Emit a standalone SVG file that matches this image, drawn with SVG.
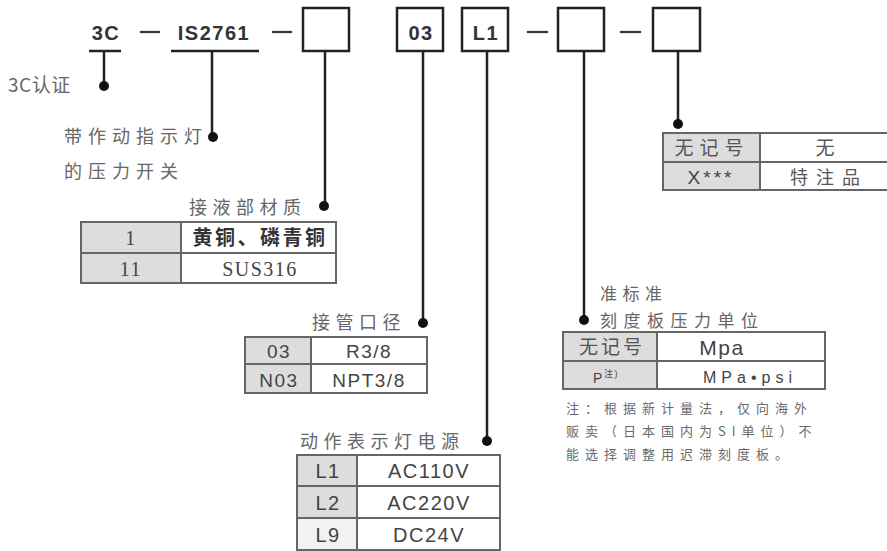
<svg xmlns="http://www.w3.org/2000/svg" width="887" height="551" viewBox="0 0 887 551">
<style>
.code{font-family:"Liberation Sans","Noto Sans CJK SC",sans-serif;font-size:20px;font-weight:bold;fill:#333;text-anchor:middle;letter-spacing:1.5px}
.box{fill:#fff;stroke:#222;stroke-width:2.5}
.ln{stroke:#222;stroke-width:2.5;fill:none}
.dash{stroke:#333;stroke-width:2.2}
.dot{fill:#111}
.lbl{font-family:"Noto Sans CJK SC","Liberation Sans",sans-serif;font-size:18px;fill:#666;letter-spacing:5.5px}
.tb{stroke:#666;stroke-width:2;fill:#fff}
.cell{fill:#ddd;stroke:#666;stroke-width:2}
.tt{font-family:"Liberation Sans","Noto Sans CJK SC",sans-serif;font-size:19px;fill:#444;text-anchor:middle;letter-spacing:1.5px}
.ts{font-family:"Liberation Serif","Noto Sans CJK SC",serif;font-size:20px;fill:#444;text-anchor:middle;letter-spacing:1.5px}
.tc{font-family:"Noto Sans CJK SC","Liberation Sans",sans-serif;font-size:18px;fill:#555;text-anchor:middle}
.note{font-family:"Noto Sans CJK SC","Liberation Sans",sans-serif;font-size:13px;fill:#6a6a6a;letter-spacing:6px}
</style>
<rect width="887" height="551" fill="#fff"/>
<g id="connectors">
<line class="ln" x1="89" y1="51" x2="121" y2="51"/>
<line class="ln" x1="104" y1="51" x2="104" y2="85"/>
<line class="ln" x1="171" y1="51" x2="259" y2="51"/>
<line class="ln" x1="212" y1="51" x2="212" y2="137"/>
<line class="ln" x1="325" y1="51" x2="325" y2="206"/>
<line class="ln" x1="423" y1="51" x2="423" y2="323"/>
<line class="ln" x1="487" y1="51" x2="487" y2="441"/>
<line class="ln" x1="584" y1="51" x2="584" y2="320"/>
<line class="ln" x1="678" y1="51" x2="678" y2="123"/>
<line class="dash" x1="140" y1="32" x2="160" y2="32"/>
<line class="dash" x1="272" y1="32" x2="292" y2="32"/>
<line class="dash" x1="527" y1="32" x2="548" y2="32"/>
<line class="dash" x1="620" y1="32" x2="641" y2="32"/>
<circle class="dot" cx="104" cy="86" r="5"/>
<circle class="dot" cx="213" cy="137" r="5"/>
<circle class="dot" cx="324" cy="206" r="5"/>
<circle class="dot" cx="423" cy="323" r="5"/>
<circle class="dot" cx="487" cy="441" r="5"/>
<circle class="dot" cx="584" cy="320" r="5"/>
<circle class="dot" cx="678" cy="124" r="5"/>
</g>
<g id="code-3c">
<text class="code" x="106" y="40">3C</text>
<text class="lbl" x="8" y="92" style="letter-spacing:0.5px;font-size:19px">3C认证</text>
</g>
<g id="code-is2761">
<text class="code" x="214" y="40">IS2761</text>
<text class="lbl" x="64" y="143" style="letter-spacing:6px">带作动指示灯</text>
<text class="lbl" x="64" y="178" style="letter-spacing:6px">的压力开关</text>
</g>
<g id="code-material">
<rect class="box" x="303" y="8" width="46" height="43"/>
<text class="lbl" x="189" y="214">接液部材质</text>
<rect class="tb" x="81" y="222" width="255" height="61"/>
<rect class="cell" x="81" y="222" width="100" height="61"/>
<line class="tb" x1="81" y1="253" x2="336" y2="253"/>
<text class="ts" x="131" y="245">1</text>
<text class="tc" x="260" y="245" style="font-weight:bold;fill:#333;font-size:20px;letter-spacing:2.5px">黄铜、磷青铜</text>
<text class="ts" x="131" y="276">11</text>
<text class="ts" x="260" y="276">SUS316</text>
</g>
<g id="code-port">
<rect class="box" x="397" y="8" width="46" height="43"/>
<text class="code" x="421" y="40">03</text>
<text class="lbl" x="312" y="329">接管口径</text>
<rect class="tb" x="245" y="337" width="182" height="56"/>
<rect class="cell" x="245" y="337" width="66" height="56"/>
<line class="tb" x1="245" y1="364" x2="427" y2="364"/>
<text class="tt" x="279" y="358">03</text>
<text class="tt" x="369" y="358">R3/8</text>
<text class="tt" x="279" y="387">N03</text>
<text class="tt" x="369" y="387">NPT3/8</text>
</g>
<g id="code-lamp">
<rect class="box" x="462" y="8" width="46" height="43"/>
<text class="code" x="486" y="40">L1</text>
<text class="lbl" x="300" y="448">动作表示灯电源</text>
<rect class="tb" x="297" y="455" width="203" height="95"/>
<rect class="cell" x="297" y="455" width="60" height="95"/>
<rect x="298" y="519" width="58" height="30" fill="#f2f2f2"/>
<line class="tb" x1="297" y1="486" x2="500" y2="486"/>
<line class="tb" x1="297" y1="518" x2="500" y2="518"/>
<text class="tt" x="328" y="478" style="font-size:20px">L1</text>
<text class="tt" x="429" y="478" style="font-size:20px">AC110V</text>
<text class="tt" x="328" y="510" style="font-size:20px">L2</text>
<text class="tt" x="429" y="510" style="font-size:20px">AC220V</text>
<text class="tt" x="328" y="542" style="font-size:20px">L9</text>
<text class="tt" x="429" y="542" style="font-size:20px">DC24V</text>
</g>
<g id="code-unit">
<rect class="box" x="558" y="8" width="46" height="43"/>
<text class="lbl" x="600" y="300" style="font-size:17px">准标准</text>
<text class="lbl" x="600" y="327" style="font-size:17px;letter-spacing:6.5px">刻度板压力单位</text>
<rect class="tb" x="563" y="332" width="262" height="57"/>
<rect class="cell" x="563" y="332" width="94" height="57"/>
<line class="tb" x1="563" y1="361" x2="825" y2="361"/>
<text class="tc" x="612" y="354" style="letter-spacing:3px;font-size:19px">无记号</text>
<text class="tt" x="722" y="355" style="font-size:21px">Mpa</text>
<text class="tt" x="606" y="383" style="font-size:14px">P<tspan dy="-6" style="font-size:9px">注)</tspan></text>
<text class="tt" x="750" y="383" style="font-size:16px;letter-spacing:5px">MPa•psi</text>
<text class="note" x="566" y="413">注：根据新计量法，仅向海外</text>
<text class="note" x="566" y="436">贩卖（日本国内为SI单位）不</text>
<text class="note" x="566" y="459">能选择调整用迟滞刻度板。</text>
</g>
<g id="code-special">
<rect class="box" x="653" y="8" width="47" height="43"/>
<rect class="tb" x="663" y="133" width="230" height="57"/>
<rect class="cell" x="663" y="133" width="97" height="57"/>
<line class="tb" x1="663" y1="162" x2="893" y2="162"/>
<text class="tc" x="712" y="155" style="letter-spacing:6px;font-size:19px">无记号</text>
<text class="tc" x="825" y="155" style="font-size:19px">无</text>
<text class="tt" x="711" y="184" style="letter-spacing:3px">X***</text>
<text class="tc" x="829" y="184" style="letter-spacing:8px">特注品</text>
</g>
</svg>
